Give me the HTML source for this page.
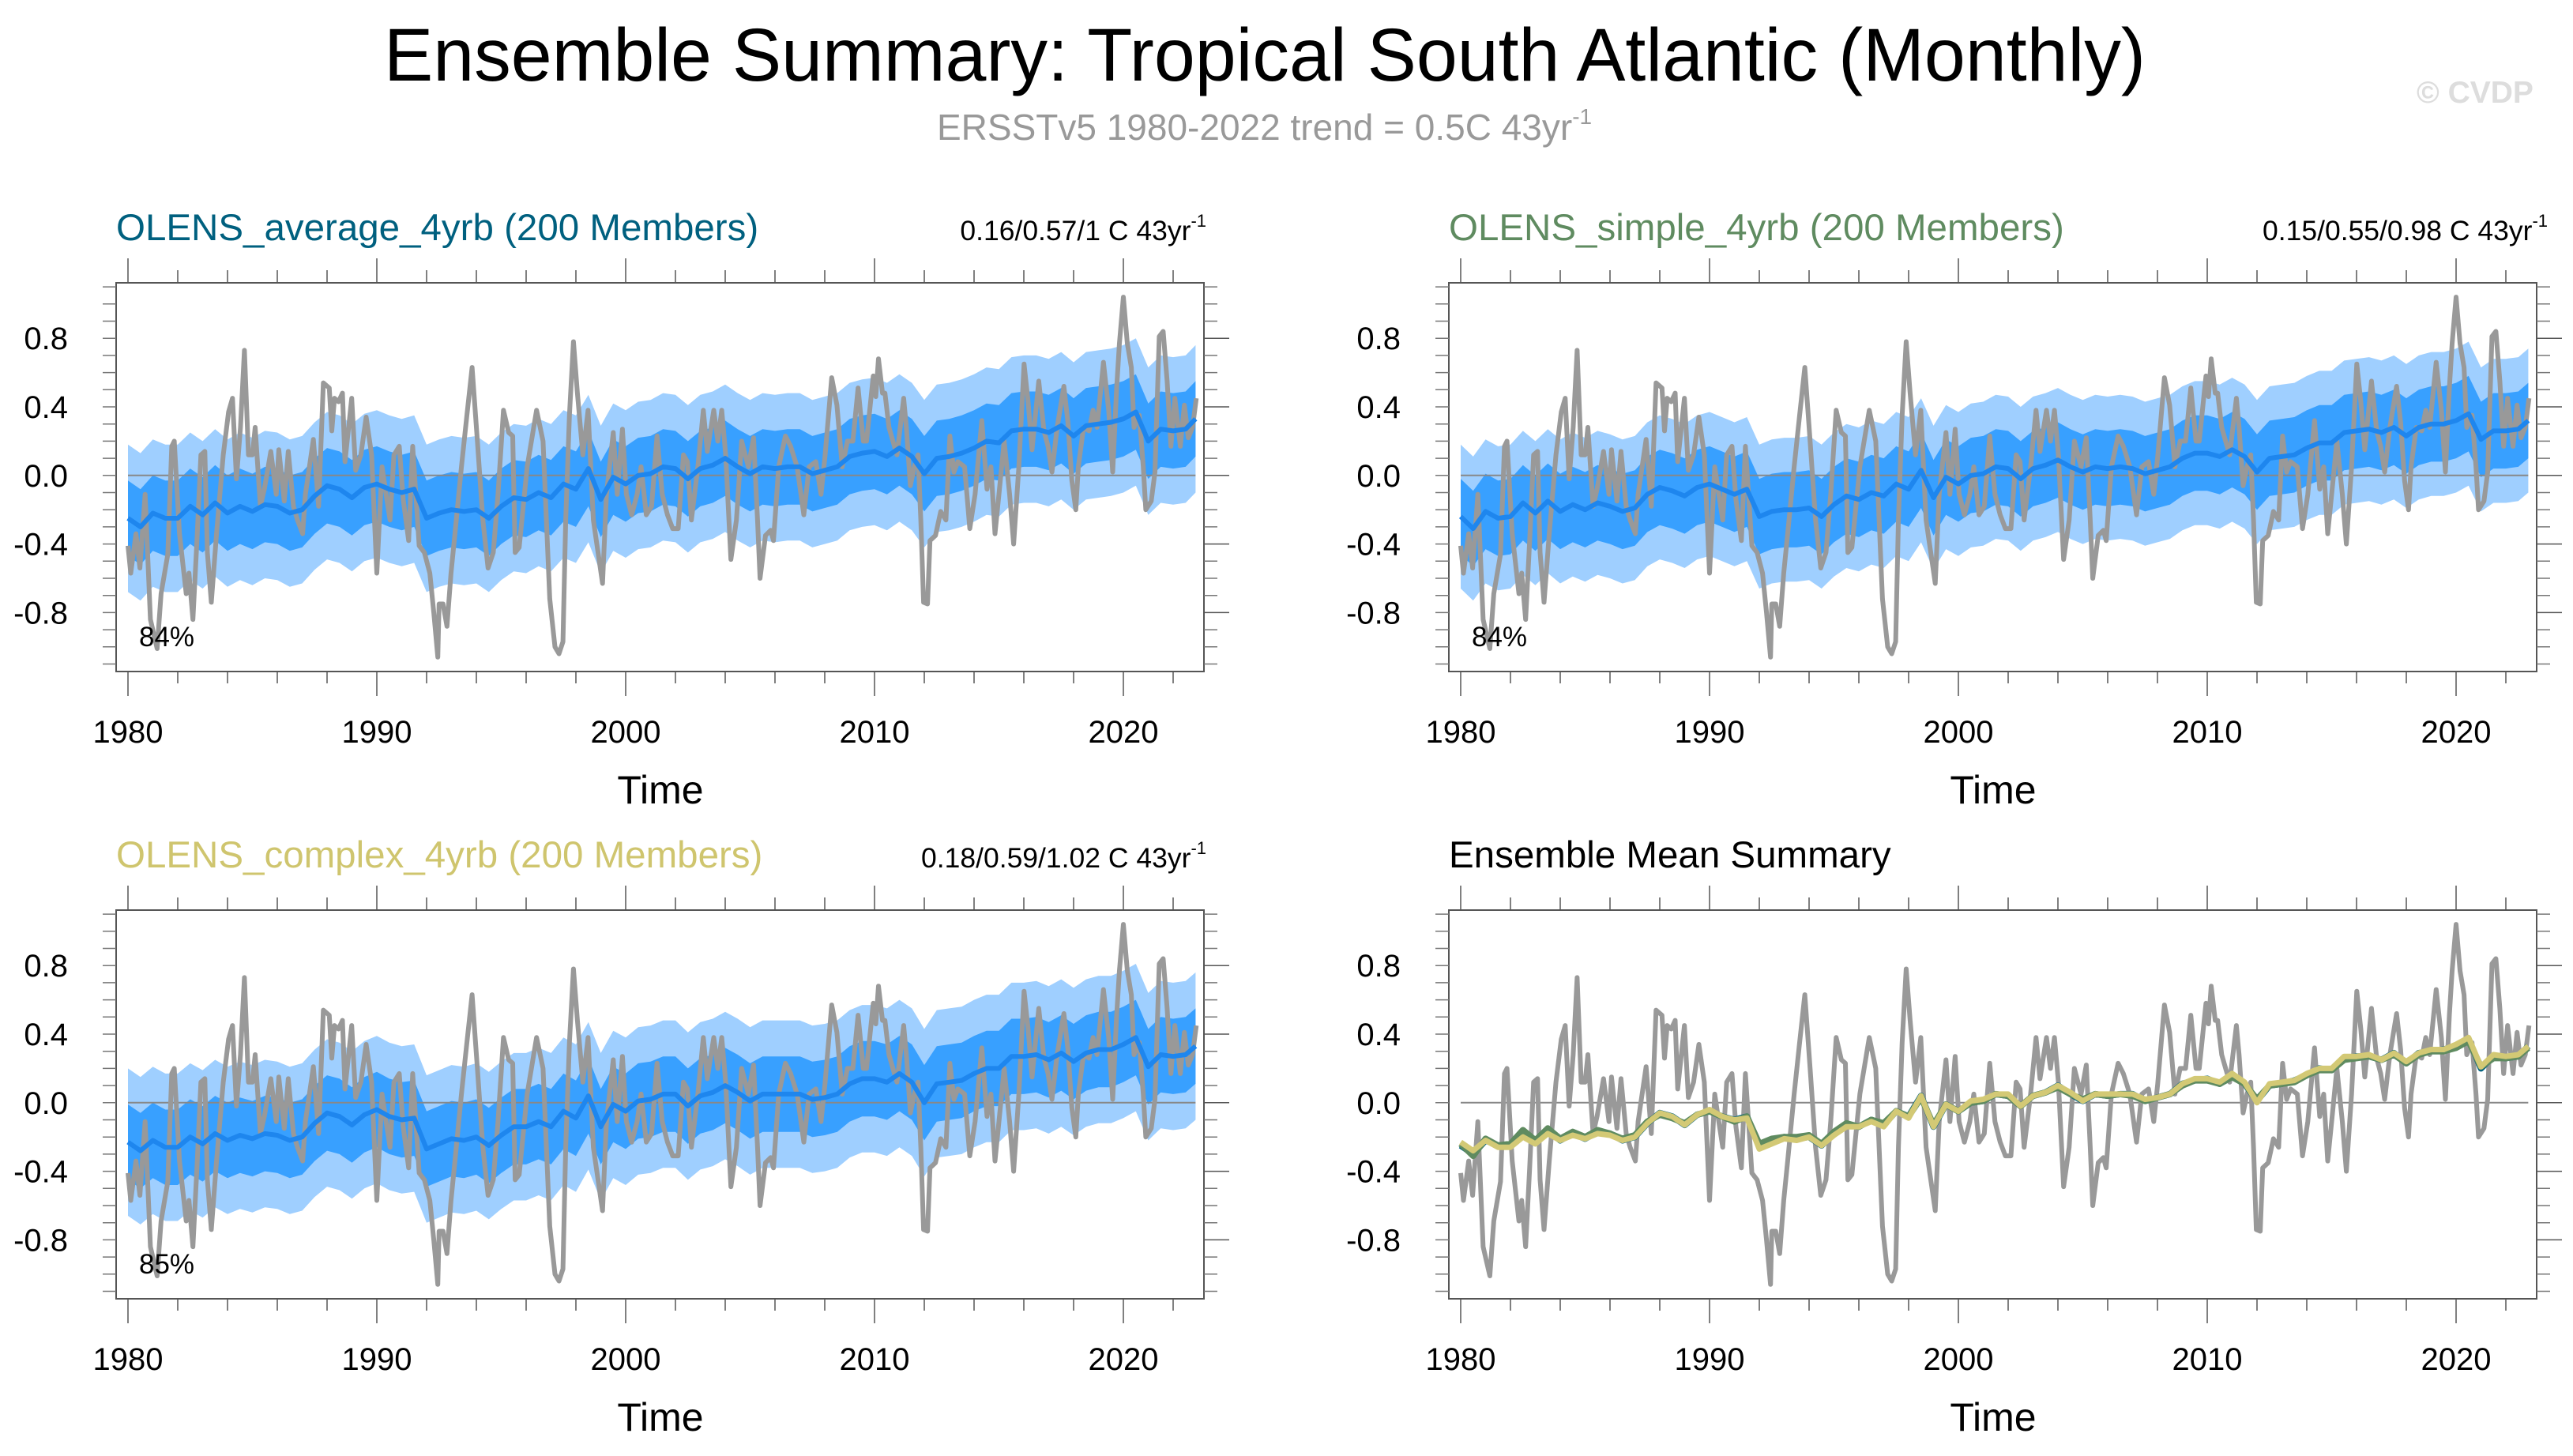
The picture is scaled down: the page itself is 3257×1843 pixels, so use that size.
<!DOCTYPE html>
<html><head><meta charset="utf-8"><title>Ensemble Summary: Tropical South Atlantic (Monthly)</title>
<style>
html,body{margin:0;padding:0;background:#fff;}
svg{display:block;font-family:"Liberation Sans",sans-serif;}
</style></head>
<body>
<svg id="chart" width="3257" height="1843" viewBox="0 0 3257 1843" xmlns="http://www.w3.org/2000/svg">
<text x="486" y="102" font-size="95" textLength="2230" lengthAdjust="spacingAndGlyphs" fill="#000">Ensemble Summary: Tropical South Atlantic (Monthly)</text>
<text x="1186" y="177" font-size="46" fill="#999">ERSSTv5 1980-2022 trend = 0.5C 43yr<tspan font-size="28" dy="-20">-1</tspan></text>
<text x="3059" y="130" font-size="39" font-weight="bold" fill="#ddd">© CVDP</text>
<g id="panels"></g>
</svg>
<script>
// Observations (ERSSTv5) time points and values
const obsT=[1980.00,1980.11,1980.32,1980.48,1980.69,1980.90,1981.17,1981.33,1981.60,1981.76,1981.86,1982.07,1982.34,1982.45,1982.61,1982.77,1982.93,1983.09,1983.19,1983.35,1983.56,1983.83,1984.04,1984.20,1984.36,1984.52,1984.68,1984.84,1985.00,1985.11,1985.32,1985.48,1985.74,1985.96,1986.06,1986.28,1986.44,1986.65,1986.81,1987.02,1987.13,1987.45,1987.66,1987.85,1988.09,1988.19,1988.30,1988.46,1988.62,1988.72,1988.99,1989.15,1989.36,1989.57,1989.79,1990.00,1990.21,1990.37,1990.53,1990.69,1990.90,1991.06,1991.28,1991.44,1991.70,1991.91,1992.13,1992.29,1992.45,1992.50,1992.66,1992.82,1992.98,1993.14,1993.40,1993.62,1993.83,1994.04,1994.26,1994.47,1994.68,1994.87,1995.09,1995.30,1995.46,1995.56,1995.72,1996.04,1996.42,1996.68,1996.95,1997.16,1997.32,1997.48,1997.59,1997.74,1997.90,1998.06,1998.28,1998.49,1998.70,1998.86,1999.07,1999.23,1999.50,1999.66,1999.87,2000.03,2000.24,2000.46,2000.62,2000.83,2001.04,2001.26,2001.47,2001.68,2001.89,2002.11,2002.32,2002.48,2002.64,2002.90,2003.12,2003.28,2003.54,2003.70,2003.86,2004.02,2004.23,2004.45,2004.66,2004.93,2005.14,2005.30,2005.40,2005.62,2005.83,2005.94,2006.15,2006.42,2006.63,2006.89,2007.16,2007.37,2007.64,2007.85,2008.01,2008.28,2008.49,2008.70,2008.91,2009.13,2009.34,2009.55,2009.68,2009.95,2010.05,2010.16,2010.32,2010.42,2010.58,2010.74,2010.90,2011.17,2011.28,2011.44,2011.60,2011.75,2011.86,2011.97,2012.13,2012.23,2012.45,2012.66,2012.87,2013.03,2013.19,2013.35,2013.62,2013.83,2014.04,2014.31,2014.52,2014.68,2014.84,2015.00,2015.21,2015.43,2015.59,2015.80,2016.01,2016.17,2016.33,2016.60,2016.81,2016.97,2017.13,2017.34,2017.61,2017.77,2017.93,2018.09,2018.19,2018.40,2018.62,2018.78,2018.94,2019.20,2019.41,2019.57,2019.73,2019.84,2020.00,2020.16,2020.32,2020.43,2020.64,2020.80,2020.90,2021.12,2021.27,2021.44,2021.60,2021.76,2021.91,2022.07,2022.29,2022.45,2022.61,2022.78,2022.93];
const obsV=[-0.41,-0.57,-0.34,-0.54,-0.11,-0.84,-1.01,-0.69,-0.46,0.17,0.20,-0.34,-0.69,-0.57,-0.84,-0.38,0.12,0.14,-0.45,-0.74,-0.34,0.12,0.37,0.45,-0.02,0.28,0.73,0.12,0.12,0.28,-0.18,-0.08,0.14,-0.11,0.15,-0.15,0.14,-0.18,-0.26,-0.34,-0.11,0.21,-0.18,0.54,0.51,0.26,0.45,0.43,0.48,0.08,0.45,0.03,0.12,0.34,0.12,-0.57,0.05,-0.11,-0.26,0.12,0.17,-0.14,-0.38,0.17,-0.41,-0.45,-0.57,-0.80,-1.06,-0.75,-0.75,-0.88,-0.57,-0.34,0.05,0.35,0.63,0.20,-0.26,-0.54,-0.45,-0.11,0.38,0.25,0.23,-0.45,-0.42,0.05,0.38,0.20,-0.72,-1.00,-1.04,-0.97,-0.26,0.35,0.78,0.48,0.12,0.38,-0.26,-0.42,-0.63,-0.11,0.25,-0.11,0.27,-0.11,-0.23,-0.11,0.05,-0.23,-0.18,0.23,-0.11,-0.23,-0.31,-0.31,0.12,0.08,-0.26,0.05,0.38,0.14,0.38,0.20,0.38,0.12,-0.49,-0.26,0.20,0.05,0.22,-0.26,-0.60,-0.35,-0.32,-0.38,0.05,0.23,0.17,0.05,-0.23,0.05,0.08,-0.11,0.11,0.57,0.41,0.05,0.20,0.20,0.51,0.20,0.20,0.58,0.46,0.68,0.48,0.48,0.28,0.20,0.12,0.45,0.28,-0.06,0.05,0.12,-0.26,-0.74,-0.75,-0.38,-0.35,-0.21,-0.26,0.23,0.02,0.08,0.05,-0.31,-0.11,0.32,-0.08,0.05,-0.34,-0.11,0.20,-0.11,-0.40,0.05,0.65,0.43,0.15,0.55,0.26,0.17,0.02,0.28,0.52,0.31,-0.03,-0.20,0.05,0.28,0.26,0.38,0.28,0.66,0.38,0.02,0.51,0.77,1.04,0.77,0.63,0.28,0.35,0.05,-0.20,-0.15,0.02,0.81,0.84,0.55,0.17,0.45,0.17,0.41,0.22,0.28,0.45];
// Ensemble mean, half-yearly from 1980.0
const meanAvg=[-0.25,-0.30,-0.22,-0.25,-0.25,-0.18,-0.23,-0.16,-0.22,-0.18,-0.21,-0.17,-0.18,-0.22,-0.20,-0.12,-0.06,-0.08,-0.13,-0.07,-0.05,-0.08,-0.10,-0.08,-0.25,-0.22,-0.20,-0.21,-0.20,-0.25,-0.18,-0.13,-0.14,-0.10,-0.13,-0.05,-0.08,0.04,-0.14,-0.01,-0.05,0.00,0.01,0.05,0.04,-0.02,0.04,0.06,0.10,0.05,0.01,0.05,0.04,0.05,0.05,0.01,0.03,0.05,0.11,0.13,0.14,0.11,0.16,0.11,0.01,0.10,0.11,0.13,0.16,0.20,0.19,0.26,0.27,0.27,0.25,0.29,0.23,0.29,0.30,0.31,0.33,0.37,0.20,0.27,0.26,0.27,0.33];
const meanSimple=[-0.24,-0.31,-0.21,-0.25,-0.24,-0.16,-0.22,-0.15,-0.21,-0.17,-0.20,-0.16,-0.18,-0.21,-0.19,-0.11,-0.07,-0.09,-0.12,-0.07,-0.05,-0.08,-0.11,-0.08,-0.24,-0.21,-0.20,-0.20,-0.19,-0.24,-0.17,-0.12,-0.14,-0.10,-0.12,-0.05,-0.08,0.03,-0.13,-0.01,-0.05,0.00,0.01,0.05,0.04,-0.02,0.04,0.06,0.09,0.05,0.02,0.05,0.04,0.05,0.04,0.01,0.03,0.05,0.10,0.13,0.13,0.11,0.15,0.11,0.02,0.10,0.11,0.12,0.16,0.19,0.19,0.25,0.26,0.27,0.25,0.28,0.23,0.28,0.30,0.30,0.32,0.36,0.21,0.26,0.26,0.27,0.32];
const meanComplex=[-0.23,-0.28,-0.22,-0.26,-0.26,-0.20,-0.24,-0.18,-0.22,-0.19,-0.21,-0.18,-0.19,-0.22,-0.20,-0.12,-0.06,-0.08,-0.13,-0.07,-0.04,-0.08,-0.10,-0.09,-0.27,-0.24,-0.21,-0.22,-0.20,-0.25,-0.19,-0.14,-0.14,-0.11,-0.14,-0.05,-0.09,0.04,-0.14,-0.01,-0.05,0.01,0.02,0.05,0.05,-0.02,0.04,0.06,0.10,0.06,0.01,0.05,0.05,0.05,0.05,0.02,0.03,0.05,0.11,0.14,0.14,0.12,0.17,0.12,0.00,0.11,0.12,0.13,0.17,0.20,0.20,0.27,0.27,0.28,0.25,0.29,0.24,0.29,0.31,0.31,0.34,0.38,0.21,0.28,0.27,0.28,0.33];
const meanT=[];
for(let i=0;i<meanAvg.length;i++){meanT.push(Math.min(1980+i*0.5,2022.9));}
// Ensemble spread (C) for inner (dark) and outer (light) bands
const darkSpread=[0.22,0.22,0.22];
const lightSpread=[0.43,0.42,0.43];
const xTickYears=[1980,1990,2000,2010,2020];
const yTickVals=[-0.8,-0.4,0.0,0.4,0.8];
const yTickLabels=["-0.8","-0.4","0.0","0.4","0.8"];

const NS="http://www.w3.org/2000/svg";
const root=document.getElementById('panels');
function mk(tag,attrs,parent){const e=document.createElementNS(NS,tag);for(const k in attrs)e.setAttribute(k,attrs[k]);(parent||root).appendChild(e);return e;}
const BX0=147,BX1=1524,BY0=358,BY1=850;
function sx(yr){return 162+(yr-1980)*31.5;}
function sy(v){return 601.8-v*217;}
function pts(T,V){return T.map((t,i)=>sx(t).toFixed(1)+','+sy(V[i]).toFixed(1)).join(' ');}

const panels=[
 {dx:0,dy:0,title:"OLENS_average_4yrb (200 Members)",col:"#00607f",stat:"0.16/0.57/1 C 43yr",rx:1527,pct:"84%",mean:meanAvg,k:0,name:"average"},
 {dx:1687,dy:0,title:"OLENS_simple_4yrb (200 Members)",col:"#5f8b60",stat:"0.15/0.55/0.98 C 43yr",rx:1538,pct:"84%",mean:meanSimple,k:1,name:"simple"},
 {dx:0,dy:794,title:"OLENS_complex_4yrb (200 Members)",col:"#cfc56e",stat:"0.18/0.59/1.02 C 43yr",rx:1527,pct:"85%",mean:meanComplex,k:2,name:"complex"},
 {dx:1687,dy:794,title:"Ensemble Mean Summary",col:"#000",summary:true,name:"summary"}
];

panels.forEach(p=>{
  const g=mk('g',{transform:`translate(${p.dx},${p.dy})`});
  
  
  const t=mk('text',{x:BX0,y:304,'font-size':47.5,fill:p.col},g);
  
  
  t.textContent=p.title;
  if(!p.summary){
    const s=mk('text',{x:p.rx,y:304,'font-size':35.5,fill:'#000','text-anchor':'end'},g);
    
    
    s.appendChild(document.createTextNode(p.stat));
    const sup=mk('tspan',{'font-size':22,dy:-17},s);sup.textContent='-1';
  }
  const clip='clip-'+p.name;
  const cp=mk('clipPath',{id:clip},g);mk('rect',{x:BX0,y:BY0,width:BX1-BX0,height:BY1-BY0},cp);
  const pg=mk('g',{'clip-path':`url(#${clip})`},g);
  if(!p.summary){
    const L=lightSpread[p.k],D=darkSpread[p.k];
    const up=p.mean.map(v=>v+L),dn=p.mean.map(v=>v-L);
    const lb=mk('polygon',{points:pts(meanT,up)+' '+pts(meanT.slice().reverse(),dn.slice().reverse()),fill:'#9fcfff'},pg);
    
    
    const du=p.mean.map(v=>v+D),dd=p.mean.map(v=>v-D);
    const db=mk('polygon',{points:pts(meanT,du)+' '+pts(meanT.slice().reverse(),dd.slice().reverse()),fill:'#38a0ff'},pg);
    
    
  }
  const z=mk('line',{x1:sx(1980),x2:sx(2022.9),y1:sy(0),y2:sy(0),stroke:'#888','stroke-width':2},pg);
  
  
  const ob=mk('polyline',{points:pts(obsT,obsV),fill:'none',stroke:'#999','stroke-width':6,'stroke-linejoin':'round'},pg);
  
  
  if(!p.summary){
    const ml=mk('polyline',{points:pts(meanT,p.mean),fill:'none',stroke:'#1e86ee','stroke-width':6,'stroke-linejoin':'round'},pg);
    
    
  } else {
    const a=mk('polyline',{points:pts(meanT,meanAvg),fill:'none',stroke:'#00607f','stroke-width':8,'stroke-linejoin':'round'},pg);
    
    
    const b=mk('polyline',{points:pts(meanT,meanSimple),fill:'none',stroke:'#5f8b60','stroke-width':8,'stroke-linejoin':'round'},pg);
    
    
    const c=mk('polyline',{points:pts(meanT,meanComplex),fill:'none',stroke:'#d3c975','stroke-width':7,'stroke-linejoin':'round'},pg);
    
    
  }
  const box=mk('rect',{x:BX0,y:BY0,width:BX1-BX0,height:BY1-BY0,fill:'none',stroke:'#555','stroke-width':2},g);
  
  
  // x ticks
  for(let yr=1980;yr<=2022;yr+=2){
    const major=xTickYears.indexOf(yr)>=0;const x=sx(yr);
    mk('line',{x1:x,x2:x,y1:BY0,y2:BY0-(major?31:16),stroke:'#555','stroke-width':1.5},g);
    mk('line',{x1:x,x2:x,y1:BY1,y2:BY1+(major?31:15),stroke:'#555','stroke-width':1.5},g);
  }
  xTickYears.forEach(yr=>{
    const l=mk('text',{x:sx(yr),y:940,'font-size':40,'text-anchor':'middle',fill:'#000'},g);
    
    
    l.textContent=yr;
  });
  // y ticks
  for(let i=-11;i<=11;i++){
    const v=i/10,y=sy(v),major=(i%4===0);
    mk('line',{x1:BX0,x2:BX0-17,y1:y,y2:y,stroke:'#777','stroke-width':1.5},g);
    mk('line',{x1:BX1,x2:BX1+(major?32:17),y1:y,y2:y,stroke:major?'#555':'#777','stroke-width':1.5},g);
  }
  yTickVals.forEach((v,i)=>{
    const l=mk('text',{x:86,y:sy(v)+14,'font-size':40,'text-anchor':'end',fill:'#000'},g);
    
    
    l.textContent=yTickLabels[i];
  });
  const xt=mk('text',{x:836,y:1017,'font-size':50,'text-anchor':'middle',fill:'#000'},g);
  
  
  xt.textContent='Time';
  if(p.pct){
    const pc=mk('text',{x:176,y:818,'font-size':35,fill:'#000'},g);
    
    
    pc.textContent=p.pct;
  }
});
</script>
</body></html>
